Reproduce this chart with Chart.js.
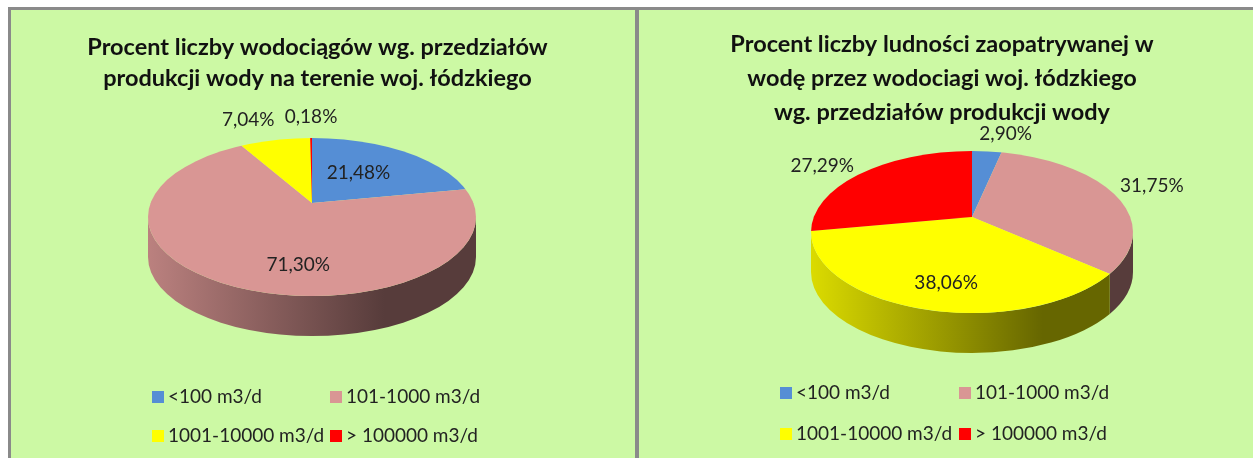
<!DOCTYPE html>
<html lang="pl">
<head>
<meta charset="utf-8">
<title>Wodociągi woj. łódzkiego</title>
<script src="https://cdn.jsdelivr.net/npm/chart.js@4"></script>
<style>
html, body { margin: 0; padding: 0; background: #fff; overflow: hidden; }
#page { position: relative; width: 1253px; height: 458px; }
.panel { position: absolute; top: 7px; height: 451px; background: #ccf9a4; border-top: 3px solid #8a8a8a; box-sizing: border-box; }
#panelLeft { left: 8px; width: 627px; border-left: 3px solid #8a8a8a; }
#panelRight { left: 635px; width: 618px; border-left: 4px solid #8a8a8a; }
canvas { position: absolute; top: 0; }
#chartLeft { left: 0; }
#chartRight { left: 640px; }
</style>
</head>
<body>
<div id="page">
  <div class="panel" id="panelLeft"></div>
  <div class="panel" id="panelRight"></div>
  <canvas id="chartLeft" width="635" height="458"></canvas>
  <canvas id="chartRight" width="604" height="458"></canvas>
</div>
<script>
const categories = ['<100 m3/d', '101-1000 m3/d', '1001-10000 m3/d', '> 100000 m3/d'];
const sliceColors = ['#558ed5', '#d99694', '#ffff00', '#ff0000'];
const waterworksShare = [21.48, 71.30, 7.04, 0.18];
const populationShare = [2.90, 31.75, 38.06, 27.29];
const titleLeft = ['Procent liczby wodociągów wg. przedziałów', 'produkcji wody na terenie woj. łódzkiego'];
const titleRight = ['Procent liczby ludności zaopatrywanej w', 'wodę przez wodociagi woj. łódzkiego', 'wg. przedziałów produkcji wody'];

const FONT = 'Lato, "Open Sans", sans-serif';
const OVERSIZE = 1.4;

function shade(hex, f) {
    const n = parseInt(hex.slice(1), 16);
    const r = Math.round((n >> 16 & 255) * f);
    const g = Math.round((n >> 8 & 255) * f);
    const b = Math.round((n & 255) * f);
    return `rgb(${r},${g},${b})`;
}

// where a slice edge leaving the off-centre apex meets the rim ellipse
function rimAngle(angle, o) {
    const k = o.rimY - o.cy;
    const dx = Math.cos(angle) * o.rx;
    const dy = Math.sin(angle) * (Math.sin(angle) > 0 ? o.ryBottom : o.ryTop);
    const A = (dx / o.rx) ** 2 + (dy / o.rimRy) ** 2;
    const B = -2 * k * dy / (o.rimRy * o.rimRy);
    const C = (k * k) / (o.rimRy * o.rimRy) - 1;
    const t = (-B + Math.sqrt(B * B - 4 * A * C)) / (2 * A);
    let p = Math.atan2((t * dy - k) / o.rimRy, t * dx / o.rx);
    if (angle > Math.PI / 2 && p < 0) p += 2 * Math.PI;
    return p;
}

// tilted pie: the library's arcs are drawn twice through two y scales and cut to the rim, the wall follows their angles
const tiltedPie = {
    id: 'tiltedPie',
    beforeDatasetsDraw(chart, args, o) {
        const ctx = chart.ctx;
        const meta = chart.getDatasetMeta(0);
        const w = chart.width, h = chart.height;

        meta.data.forEach((arc, i) => {
            const a0 = Math.max(rimAngle(arc.startAngle, o), 0);
            const a1 = Math.min(rimAngle(arc.endAngle, o), Math.PI);
            if (a1 <= a0) return;
            const g = ctx.createLinearGradient(o.cx - o.rx, 0, o.cx + o.rx, 0);
            g.addColorStop(0, shade(sliceColors[i], 0.86));
            g.addColorStop(0.72, shade(sliceColors[i], 0.4));
            g.addColorStop(1, shade(sliceColors[i], 0.4));
            ctx.beginPath();
            ctx.ellipse(o.cx, o.rimY, o.rx, o.rimRy, 0, a0, a1);
            ctx.ellipse(o.cx, o.rimY + o.depth, o.rx, o.rimRy, 0, a1, a0, true);
            ctx.closePath();
            ctx.fillStyle = g;
            ctx.fill();
        });

        const place = ry => {
            const arc = meta.data[0];
            ctx.translate(o.cx, o.cy);
            ctx.scale(OVERSIZE * o.rx / arc.outerRadius, OVERSIZE * ry / arc.outerRadius);
            ctx.translate(-arc.x, -arc.y);
        };
        const rim = () => {
            ctx.beginPath();
            ctx.ellipse(o.cx, o.rimY, o.rx, o.rimRy, 0, 0, 2 * Math.PI);
            ctx.clip();
        };

        ctx.save();
        rim();
        ctx.beginPath();
        ctx.rect(0, o.cy, w, h - o.cy);
        ctx.clip();
        place(o.ryBottom);
        meta.controller.draw();
        ctx.restore();

        ctx.save();
        rim();
        ctx.beginPath();
        ctx.rect(0, 0, w, o.cy + 0.5);
        ctx.clip();
        place(o.ryTop);
    },
    afterDatasetsDraw(chart, args, o) {
        const ctx = chart.ctx;
        ctx.restore();

        const meta = chart.getDatasetMeta(0);
        const values = chart.data.datasets[0].data;
        ctx.font = `19px ${FONT}`;
        ctx.fillStyle = '#222';
        ctx.textAlign = 'center';
        ctx.textBaseline = 'middle';
        meta.data.forEach((arc, i) => {
            const mid = (arc.startAngle + arc.endAngle) / 2;
            const ry = Math.sin(mid) > 0 ? o.ryBottom : o.ryTop;
            const f = o.labelRadius[i];
            const x = o.cx + Math.cos(mid) * o.rx * f + o.labelNudge[i][0];
            const y = o.cy + Math.sin(mid) * ry * f + o.labelNudge[i][1];
            ctx.fillText(values[i].toFixed(2).replace('.', ',') + '%', x, y);
        });

        // legend in two fixed columns
        ctx.textAlign = 'left';
        chart.data.labels.forEach((label, i) => {
            const x = o.legendX[i % 2];
            const y = o.legendY[Math.floor(i / 2)];
            ctx.fillStyle = sliceColors[i];
            ctx.fillRect(x, y - 6, 12, 12);
            ctx.fillStyle = '#222';
            ctx.fillText(label, x + 16, y);
        });
    }
};

function makeChart(id, title, values, lineHeight, titleTop, pie) {
    return new Chart(document.getElementById(id), {
        type: 'pie',
        data: {
            labels: categories,
            datasets: [{ data: values, backgroundColor: sliceColors, borderWidth: 0, clip: false }]
        },
        options: {
            responsive: false,
            animation: false,
            events: [],
            layout: { padding: { bottom: 80 } },
            plugins: {
                legend: { display: false },
                tooltip: { enabled: false },
                title: {
                    display: true,
                    text: title,
                    color: '#111',
                    font: { family: FONT, size: 23.5, weight: 'bold', lineHeight: lineHeight },
                    padding: { top: titleTop, bottom: 6 }
                },
                tiltedPie: pie
            }
        },
        plugins: [tiltedPie]
    });
}

makeChart('chartLeft', titleLeft, waterworksShare, 1.32, 32, {
    cx: 312, cy: 203, rx: 164, ryTop: 65, ryBottom: 93, rimY: 217, rimRy: 79, depth: 40,
    labelRadius: [0.6, 0.7, 1, 1],
    labelNudge: [[-15, 0], [36, 3], [-26, -20], [0, -21]],
    legendX: [152, 330],
    legendY: [397, 436]
});

makeChart('chartRight', titleRight, populationShare, 1.46, 27, {
    cx: 332, cy: 217, rx: 161, ryTop: 65, ryBottom: 96, rimY: 232, rimRy: 81, depth: 40,
    labelRadius: [1, 1, 0.7, 1],
    labelNudge: [[19, -18], [31, -6], [0, 0], [-28, -9]],
    legendX: [140, 319],
    legendY: [393, 434]
});
</script>
</body>
</html>
